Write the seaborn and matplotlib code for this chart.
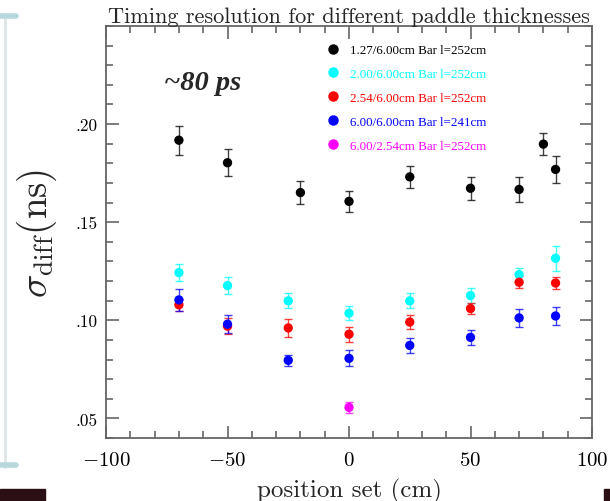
import matplotlib
matplotlib.use("Agg")
import matplotlib.pyplot as plt
import seaborn as sns
import pandas as pd
from matplotlib.lines import Line2D
from matplotlib.patches import Rectangle
from matplotlib.ticker import MultipleLocator, FixedLocator, FuncFormatter

# measured timing resolution per bar type
labels = ["1.27/6.00cm Bar l=252cm", "2.00/6.00cm Bar l=252cm", "2.54/6.00cm Bar l=252cm",
          "6.00/6.00cm Bar l=241cm", "6.00/2.54cm Bar l=252cm"]
colors = ["black", "cyan", "red", "blue", "magenta"]

pos_127 = [-70, -50, -20, 0, 25, 50, 70, 80, 85]
sig_127 = [0.1918, 0.1803, 0.1651, 0.1606, 0.1731, 0.1673, 0.1667, 0.1898, 0.1769]
err_127 = [0.0074, 0.0070, 0.0059, 0.0055, 0.0055, 0.0059, 0.0062, 0.0056, 0.0068]

pos_200 = [-70, -50, -25, 0, 25, 50, 70, 85]
sig_200 = [0.1243, 0.1177, 0.1099, 0.1036, 0.1099, 0.1126, 0.1233, 0.1316]
err_200 = [0.0044, 0.0043, 0.0038, 0.0036, 0.0038, 0.0040, 0.0036, 0.0065]

pos_254 = [-70, -50, -25, 0, 25, 50, 70, 85]
sig_254 = [0.1079, 0.0970, 0.0961, 0.0929, 0.0991, 0.1060, 0.1194, 0.1190]
err_254 = [0.0030, 0.0040, 0.0047, 0.0038, 0.0034, 0.0030, 0.0030, 0.0030]

pos_600 = [-70, -50, -25, 0, 25, 50, 70, 85]
sig_600 = [0.1104, 0.0980, 0.0796, 0.0806, 0.0872, 0.0913, 0.1012, 0.1022]
err_600 = [0.0055, 0.0045, 0.0028, 0.0041, 0.0040, 0.0038, 0.0048, 0.0046]

pos_254t = [0]
sig_254t = [0.0556]
err_254t = [0.0028]

yticks = [0.05, 0.10, 0.15, 0.20]

series = [(pos_127, sig_127, err_127), (pos_200, sig_200, err_200), (pos_254, sig_254, err_254),
          (pos_600, sig_600, err_600), (pos_254t, sig_254t, err_254t)]

rows = []
for lab, (p, s, e) in zip(labels, series):
    for pi, si, ei in zip(p, s, e):
        rows.append({"pos": pi, "sigma": si, "err": ei, "bar": lab})
df = pd.DataFrame(rows)

sns.set_style("ticks")
plt.rcParams["mathtext.fontset"] = "cm"
plt.rcParams["axes.edgecolor"] = "#666666"
plt.rcParams["xtick.color"] = "#666666"
plt.rcParams["ytick.color"] = "#666666"
plt.rcParams["xtick.labelcolor"] = "black"
plt.rcParams["ytick.labelcolor"] = "black"

fig = plt.figure(figsize=(6.1, 5.02), dpi=100)
ax = fig.add_axes([0.1738, 0.1255, 0.7967, 0.8207])

for lab, col in zip(labels, colors):
    d = df[df["bar"] == lab]
    ax.errorbar(d["pos"], d["sigma"], yerr=d["err"], fmt="none", ecolor=col,
                elinewidth=1.0, capsize=3, capthick=1.0, alpha=0.75, zorder=2)

sns.scatterplot(data=df, x="pos", y="sigma", hue="bar", hue_order=labels,
                palette=colors, s=45, edgecolor="none", ax=ax, zorder=3, legend=False)

ax.set_xlim(-100, 100)
ax.set_ylim(0.04, 0.25)
ax.xaxis.set_major_locator(MultipleLocator(50))
ax.xaxis.set_minor_locator(MultipleLocator(10))
ax.yaxis.set_major_locator(FixedLocator(yticks))
ax.yaxis.set_minor_locator(MultipleLocator(0.01))
ax.xaxis.set_major_formatter(FuncFormatter(lambda v, p: f"${v:g}$"))
ax.yaxis.set_major_formatter(FuncFormatter(lambda v, p: f"{v:.2f}"[1:]))
ax.tick_params(which="both", direction="in", top=True, right=True, width=1.2)
ax.tick_params(which="major", length=9)
ax.tick_params(which="minor", length=5)
ax.tick_params(axis="x", labelsize=15, pad=8)
ax.tick_params(axis="y", labelsize=12.5, pad=6, labelfontfamily="cmr10")
for sp in ax.spines.values():
    sp.set_linewidth(1.3)

ax.set_xlabel("position set (cm)", family="cmr10", fontsize=18, labelpad=6)
ax.set_ylabel(r"$\sigma_{\rm diff}\mathrm{(ns)}$", fontsize=28, labelpad=12)
ax.set_title("Timing resolution for different paddle thicknesses", family="cmr10",
             fontsize=16, pad=3)

ax.text(0.12, 0.848, "~80 ps", transform=ax.transAxes, family="Liberation Serif",
        fontsize=20.5, fontweight="bold", fontstyle="italic")

handles = [Line2D([], [], marker="o", ls="none", color=c, markersize=6.5) for c in colors]
leg = ax.legend(handles, labels, loc="upper left", bbox_to_anchor=(0.43, 0.985),
                frameon=False, labelspacing=0.9, handletextpad=0.8, handlelength=1.0,
                prop={"family": "Liberation Serif", "size": 9.4}, labelcolor=colors)

# slide decoration on the left edge
deco = "#b8d8de"
fig.add_artist(Line2D([5 / 610, 5 / 610], [1 - 15 / 502, 1 - 468 / 502],
                      transform=fig.transFigure, color="#dde6e8", lw=2.0))
fig.add_artist(Line2D([0, 16 / 610], [1 - 17 / 502, 1 - 17 / 502],
                      transform=fig.transFigure, color=deco, lw=4))
fig.add_artist(Line2D([0, 16 / 610], [1 - 466 / 502, 1 - 466 / 502],
                      transform=fig.transFigure, color=deco, lw=4))
fig.add_artist(Rectangle((0, 0), 45 / 610, 12 / 502, transform=fig.transFigure,
                         color="#2a0f14"))
fig.add_artist(Rectangle((604 / 610, 0), 6 / 610, 12 / 502, transform=fig.transFigure,
                         color="#2a0f14"))

fig.savefig("out.png", dpi=100)
